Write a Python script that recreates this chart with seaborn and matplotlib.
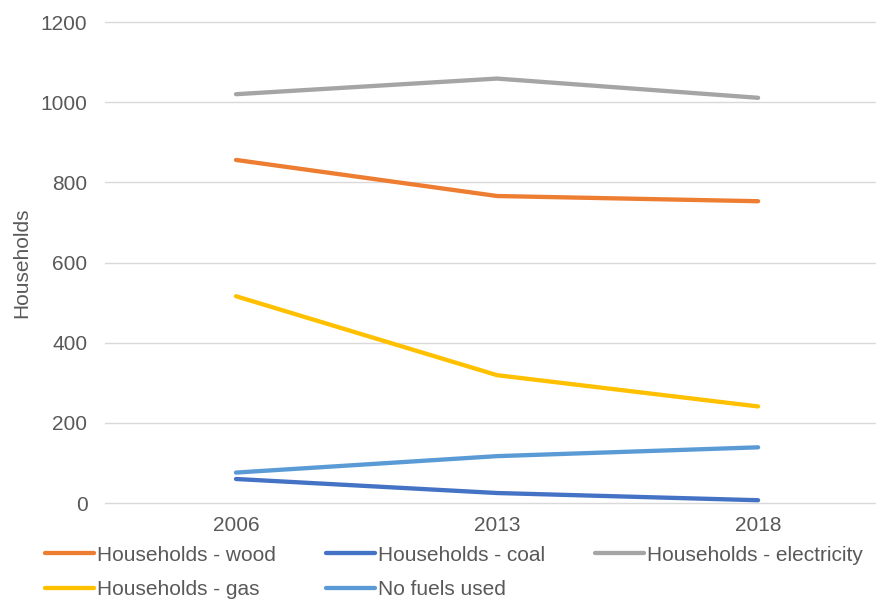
import matplotlib
matplotlib.use("Agg")
import matplotlib.pyplot as plt
import seaborn as sns
import pandas as pd

# data
years = ["2006", "2013", "2018"]
wood = [856, 766, 753]
coal = [60, 25, 7]
electricity = [1020, 1059, 1011]
gas = [516, 319, 241]
no_fuels = [76, 117, 139]

series = {
    "Households - wood": wood,
    "Households - coal": coal,
    "Households - electricity": electricity,
    "Households - gas": gas,
    "No fuels used": no_fuels,
}
colors = ["#ED7D31", "#4472C4", "#A5A5A5", "#FFC000", "#5B9BD5"]

rows = []
for name, vals in series.items():
    for y, v in zip(years, vals):
        rows.append({"Year": y, "Households": v, "Series": name})
df = pd.DataFrame(rows)

sns.set_style("white")
plt.rcParams["font.family"] = ["Liberation Sans", "DejaVu Sans"]
txt = "#595959"
fs = 15

fig = plt.figure(figsize=(8.76, 6.01), dpi=100)
ax = fig.add_axes([0.1204, 0.163, 0.894, 0.8003])

sns.lineplot(data=df, x="Year", y="Households", hue="Series",
             palette=colors, linewidth=3.1, ax=ax, sort=False,
             solid_capstyle="round")

ax.set_xlim(-0.5, 2.5)
ax.set_ylim(0, 1200)
ax.set_yticks(range(0, 1201, 200))
ax.yaxis.grid(True, color="#D9D9D9", linewidth=1)
for gl in ax.get_ygridlines():
    gl.set_clip_on(False)
ax.set_axisbelow(True)
for s in ax.spines.values():
    s.set_visible(False)
ax.tick_params(axis="both", length=0, labelsize=fs, colors=txt)
ax.tick_params(axis="x", pad=9)
ax.tick_params(axis="y", pad=13)
ax.set_xlabel("")
ax.set_ylabel("Households", fontsize=fs, color=txt, labelpad=7)

# reorder so the legend fills row by row
handles, labels = ax.get_legend_handles_labels()
ax.legend_.remove()
order = [0, 3, 1, 4, 2]
fig.legend([handles[i] for i in order], [labels[i] for i in order],
           loc="upper left", bbox_to_anchor=(0.051, 0.092),
           ncol=3, frameon=False, fontsize=fs, labelcolor=txt,
           handlelength=2.35, handletextpad=0.15, columnspacing=2.4,
           labelspacing=0.75, borderpad=0, borderaxespad=0)

fig.savefig("out.png", dpi=100)
